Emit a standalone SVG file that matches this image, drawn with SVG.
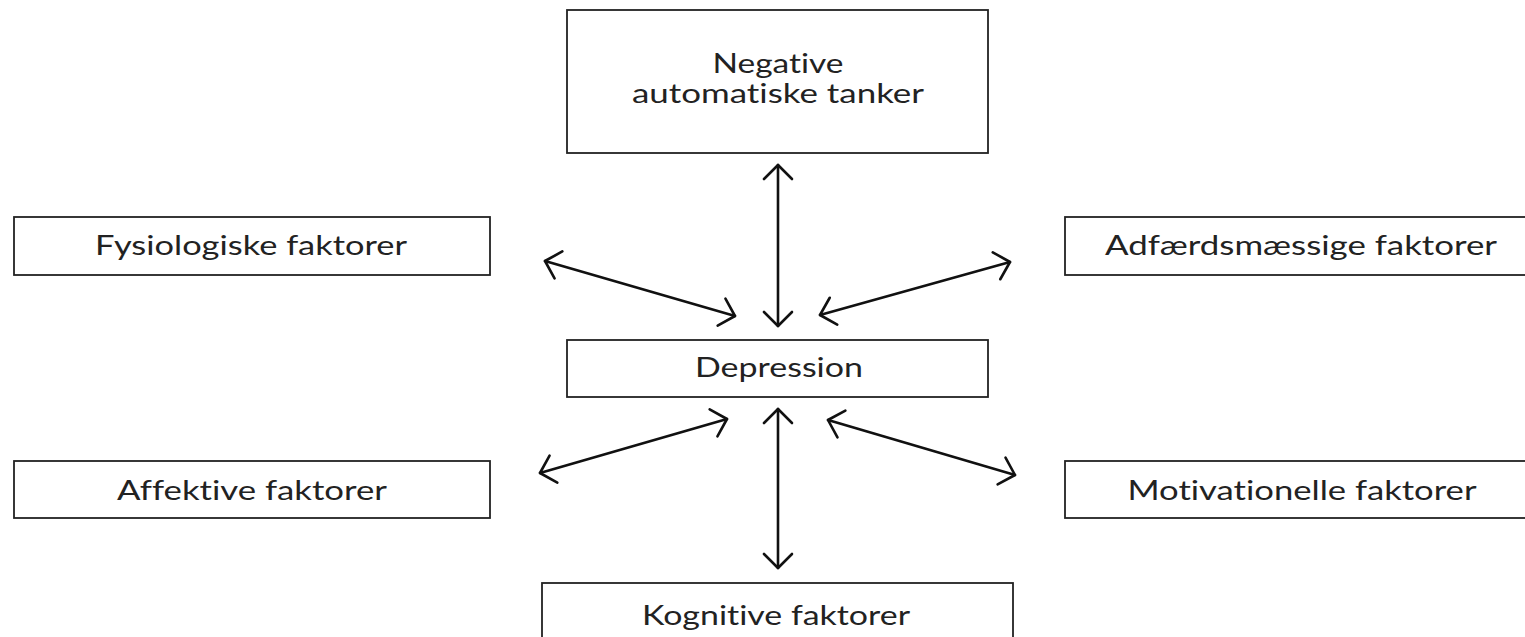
<svg xmlns="http://www.w3.org/2000/svg" width="1525" height="637" viewBox="0 0 1525 637">
<defs>
<style>
.box{fill:#fff;stroke:#222;stroke-width:1.8}
.t{font-family:Lato,"Open Sans","Liberation Sans",sans-serif;font-size:27px;fill:#222;text-anchor:middle;font-variant-ligatures:none}
.c{stroke:#111;stroke-width:2.6;fill:none;stroke-linecap:round}
</style>
<marker id="ah" markerUnits="userSpaceOnUse" viewBox="-16 -16 20 32" refX="0" refY="0" markerWidth="20" markerHeight="32" orient="auto-start-reverse">
<path d="M-14,-14 L0,0 L-14,14" fill="none" stroke="#111" stroke-width="2.6" stroke-linecap="round" stroke-linejoin="round"/>
</marker>
</defs>
<rect width="1525" height="637" fill="#fff"/>
<g id="negative">
<rect class="box" x="567" y="10" width="421" height="143"/>
<text class="t" x="778" y="73" textLength="131" lengthAdjust="spacingAndGlyphs">Negative</text>
<text class="t" x="778" y="103" textLength="292" lengthAdjust="spacingAndGlyphs">automatiske tanker</text>
</g>
<g id="fysiologiske">
<rect class="box" x="14" y="217" width="476" height="58"/>
<text class="t" x="251" y="255" textLength="312" lengthAdjust="spacingAndGlyphs">Fysiologiske faktorer</text>
</g>
<g id="adfaerd">
<rect class="box" x="1065" y="217" width="480" height="58"/>
<text class="t" x="1301" y="255" textLength="392" lengthAdjust="spacingAndGlyphs">Adfærdsmæssige faktorer</text>
</g>
<g id="depression">
<rect class="box" x="567" y="340" width="421" height="57"/>
<text class="t" x="779" y="377" textLength="168" lengthAdjust="spacingAndGlyphs">Depression</text>
</g>
<g id="affektive">
<rect class="box" x="14" y="461" width="476" height="57"/>
<text class="t" x="252" y="500" textLength="270" lengthAdjust="spacingAndGlyphs">Affektive faktorer</text>
</g>
<g id="motivationelle">
<rect class="box" x="1065" y="461" width="480" height="57"/>
<text class="t" x="1302" y="500" textLength="349" lengthAdjust="spacingAndGlyphs">Motivationelle faktorer</text>
</g>
<g id="kognitive">
<rect class="box" x="542" y="583" width="471" height="80"/>
<text class="t" x="776" y="625" textLength="268" lengthAdjust="spacingAndGlyphs">Kognitive faktorer</text>
</g>
<g id="connectors">
<line class="c" x1="778" y1="165" x2="778" y2="326" marker-start="url(#ah)" marker-end="url(#ah)"/>
<line class="c" x1="545" y1="261" x2="735" y2="316" marker-start="url(#ah)" marker-end="url(#ah)"/>
<line class="c" x1="1010" y1="262" x2="820" y2="315" marker-start="url(#ah)" marker-end="url(#ah)"/>
<line class="c" x1="540" y1="473" x2="727" y2="419" marker-start="url(#ah)" marker-end="url(#ah)"/>
<line class="c" x1="778" y1="409" x2="778" y2="568" marker-start="url(#ah)" marker-end="url(#ah)"/>
<line class="c" x1="828" y1="420" x2="1015" y2="475" marker-start="url(#ah)" marker-end="url(#ah)"/>
</g>
</svg>
